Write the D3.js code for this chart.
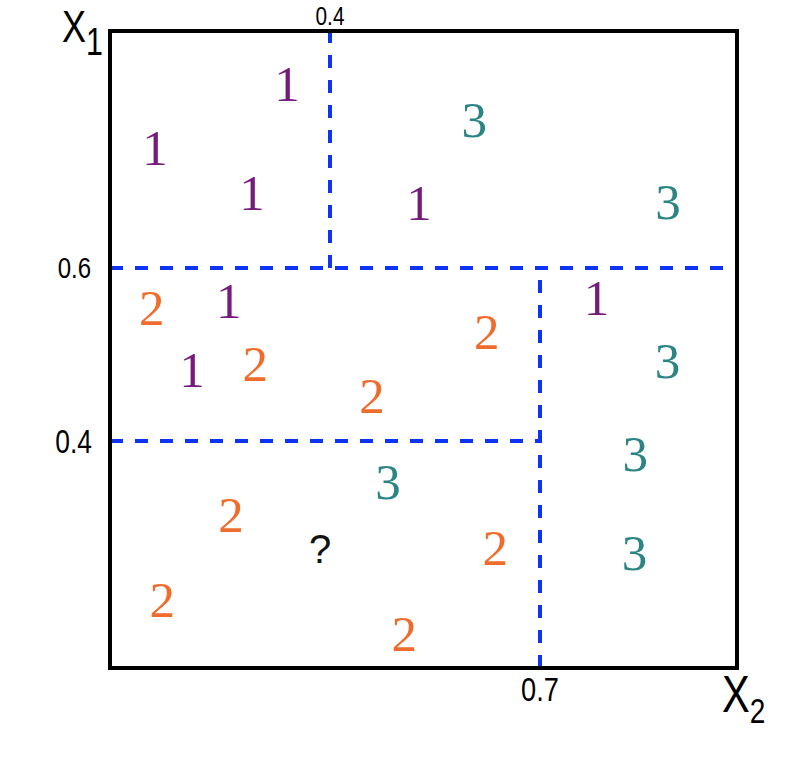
<!DOCTYPE html>
<html>
<head>
<meta charset="utf-8">
<script src="https://cdn.jsdelivr.net/npm/d3@7"></script>
<style>
  html, body { margin: 0; padding: 0; background: #fff; }
  svg { display: block; }
</style>
</head>
<body>
<svg id="chart" width="786" height="766"></svg>
<script>
// ---- data ----
const pointLabels = ["1","1","1","1","1","1","1",
                     "2","2","2","2","2","2","2","2",
                     "3","3","3","3","3","3"];
const pointX2 = [0.322,0.082,0.258,0.527,0.216,0.149,0.786,
                 0.076,0.264,0.624,0.460,0.220,0.636,0.095,0.506,
                 0.606,0.895,0.894,0.845,0.483,0.844];
const pointX1 = [0.911,0.802,0.726,0.709,0.562,0.482,0.565,
                 0.554,0.489,0.526,0.452,0.270,0.211,0.120,0.060,
                 0.850,0.711,0.492,0.377,0.328,0.203];
const queryPoint = { x2: 0.382, x1: 0.211, label: "?" };

// split segments: orientation, position, from, to
const splitOrient = ["v", "h", "v", "h"];
const splitAt     = [0.4, 0.6, 0.7, 0.4];
const splitFrom   = [0.6, 0.0, 0.0, 0.0];
const splitTo     = [1.0, 1.0, 0.6, 0.7];

const tickLabelsX2 = ["0.4", "0.7"];
const tickLabelsX1 = ["0.6", "0.4"];

const classColors = { "1": "#731c7c", "2": "#ef6c2c", "3": "#2b8585" };

// ---- scales ----
const x = d3.scaleLinear().domain([0, 0.4, 0.7, 1]).range([110, 330, 540, 737]);
const y = d3.scaleLinear().domain([0, 0.4, 0.6, 1]).range([668, 441, 268, 31]);

const svg = d3.select("#chart");

// split lines
const segs = splitOrient.map((o, i) => ({ o, at: splitAt[i], from: splitFrom[i], to: splitTo[i] }));
svg.append("g").selectAll("line").data(segs).join("line")
  .attr("x1", d => d.o === "v" ? x(d.at) : x(d.from))
  .attr("x2", d => d.o === "v" ? x(d.at) : x(d.to))
  .attr("y1", d => d.o === "v" ? y(d.from) : y(d.at))
  .attr("y2", d => d.o === "v" ? y(d.to) : y(d.at))
  .attr("stroke", "#0d33f7")
  .attr("stroke-width", 4)
  .attr("stroke-dasharray", "13,12");

// frame
svg.append("rect")
  .attr("x", x(0)).attr("y", y(1))
  .attr("width", x(1) - x(0)).attr("height", y(0) - y(1))
  .attr("fill", "none").attr("stroke", "#000").attr("stroke-width", 4);

// points
const pts = pointLabels.map((l, i) => ({ l, x2: pointX2[i], x1: pointX1[i] }));
svg.append("g").selectAll("text").data(pts).join("text")
  .attr("x", d => x(d.x2))
  .attr("y", d => y(d.x1) + 17)
  .attr("text-anchor", "middle")
  .attr("font-family", "'Liberation Serif', 'DejaVu Serif', serif")
  .attr("font-size", 51)
  .attr("fill", d => classColors[d.l])
  .text(d => d.l);

svg.append("text")
  .attr("x", x(queryPoint.x2))
  .attr("y", y(queryPoint.x1) + 15)
  .attr("text-anchor", "middle")
  .attr("font-family", "'Liberation Sans', Arial, sans-serif")
  .attr("font-size", 40)
  .attr("fill", "#111")
  .text(queryPoint.label);

const sans = "'Liberation Sans', Arial, sans-serif";
const SX = 0.8;

function condensed(px, py, size, anchor, txt) {
  return svg.append("g").attr("transform", `translate(${px},${py}) scale(${SX},1)`)
    .append("text")
    .attr("x", 0).attr("y", 0)
    .attr("text-anchor", anchor)
    .attr("font-family", sans).attr("font-size", size)
    .text(txt);
}

// tick labels
condensed(x(0.4), 25, 26, "middle", tickLabelsX2[0]);
condensed(x(0.7), 701, 34, "middle", tickLabelsX2[1]);
condensed(91, y(0.6) + 10, 30, "end", tickLabelsX1[0]);
condensed(92, y(0.4) + 12, 33, "end", tickLabelsX1[1]);

// axis titles
const g1 = svg.append("g").attr("transform", `translate(62,42) scale(${SX},1)`);
const t1 = g1.append("text").attr("font-family", sans).attr("font-size", 45);
t1.append("tspan").text("X");
t1.append("tspan").attr("font-size", 38).attr("dy", 13).text("1");

const g2 = svg.append("g").attr("transform", `translate(722,712) scale(${SX},1)`);
const t2 = g2.append("text").attr("font-family", sans).attr("font-size", 52);
t2.append("tspan").text("X");
t2.append("tspan").attr("font-size", 35).attr("dy", 11).text("2");
</script>
</body>
</html>
